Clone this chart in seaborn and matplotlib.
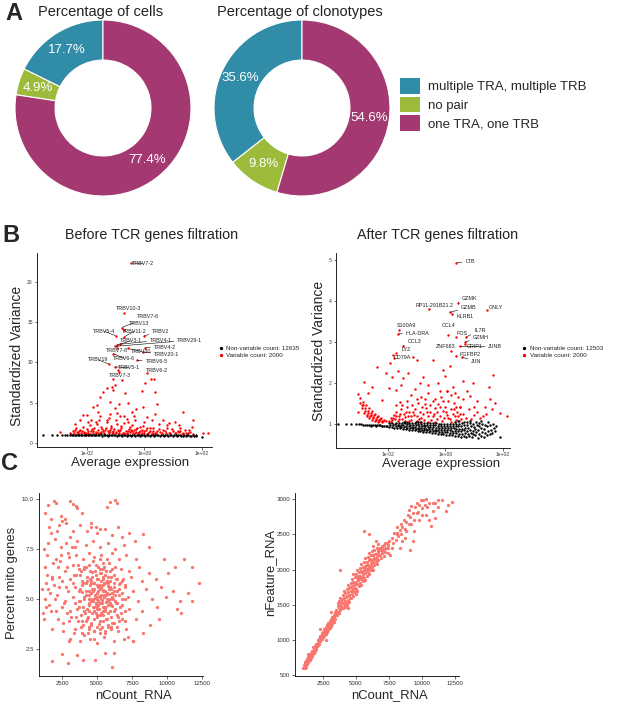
import numpy as np
import matplotlib
matplotlib.use('Agg')
import matplotlib.pyplot as plt
import seaborn as sns
from matplotlib.patches import Patch
from matplotlib.lines import Line2D

sns.set_theme(style='ticks')
plt.rcParams['font.family'] = ['Liberation Sans', 'DejaVu Sans']

# ---------------- data: panel A ----------------
pair_types = ['multiple TRA, multiple TRB', 'no pair', 'one TRA, one TRB']
pair_colors = ['#318CA7', '#9CBB3B', '#A43971']
cells_pct = [17.7, 4.9, 77.4]
clonotypes_pct = [35.6, 9.8, 54.6]

# ---------------- data: panel B (log10 average expression, standardized variance) ----------------
before_genes = ['TRBV7-2', 'TRBV10-3', 'TRBV7-6', 'TRBV13', 'TRBV5-4', 'TRBV11-2', 'TRBV2',
                'TRBV3-1', 'TRBV4-1', 'TRBV29-1', 'TRBV4-2', 'TRBV7-8', 'TRBV30', 'TRBV20-1',
                'TRBV19', 'TRBV6-6', 'TRBV6-5', 'TRBV5-1', 'TRBV6-2', 'TRBV7-3']
before_gene_logx = [-0.46, -0.71, -0.79, -0.71, -0.99, -0.71, -0.02, -0.97, -0.85, -1.03,
                    0.02, -0.97, -0.56, -0.06, -1.22, -1.08, -0.27, -1.03, 0.08, -0.88]
before_gene_var = [22.36, 16.16, 14.34, 14.0, 13.3, 13.18, 13.3, 12.15, 12.27, 12.0,
                   11.86, 11.74, 11.74, 11.32, 9.79, 11.1, 10.29, 9.46, 8.72, 8.84]
before_red = [(-2.94, 1.4), (-2.6, 1.3), (-2.55, 1.15), (-2.5, 1.5), (-2.45, 1.2), (-2.4, 1.8), (-2.35, 1.35),
              (-2.3, 1.1), (-2.25, 1.6), (-2.2, 1.25), (-2.15, 2.0), (-2.1, 1.4), (-2.05, 1.15), (-2.0, 1.7),
              (-1.95, 1.3), (-1.9, 2.2), (-1.85, 1.5), (-1.8, 1.2), (-1.75, 1.9), (-1.7, 1.4), (-1.65, 2.4),
              (-1.6, 1.6), (-1.55, 1.25), (-1.5, 2.0), (-1.45, 1.45), (-1.4, 1.15), (-1.35, 1.8), (-1.3, 2.6),
              (-1.25, 1.35), (-1.2, 1.6), (-1.15, 2.1), (-1.1, 1.2), (-1.05, 1.7), (-1.0, 1.4), (-0.95, 2.3),
              (-0.9, 1.25), (-0.85, 1.55), (-0.8, 1.9), (-0.75, 1.3), (-0.7, 2.5), (-0.65, 1.45), (-0.6, 1.15),
              (-0.55, 1.75), (-0.5, 1.35), (-0.45, 2.2), (-0.4, 1.2), (-0.35, 1.6), (-0.3, 1.4), (-0.25, 1.9),
              (-0.2, 1.15), (-0.15, 1.5), (-0.1, 1.3), (-0.05, 2.1), (0.0, 1.25), (0.05, 1.6), (0.1, 1.15),
              (0.15, 1.4), (0.2, 1.8), (0.25, 1.2), (0.3, 1.5), (0.4, 1.3), (0.5, 1.7), (0.6, 1.2), (0.7, 1.45),
              (0.8, 1.9), (0.9, 1.25), (1.0, 1.5), (1.1, 1.2), (1.2, 1.35), (1.3, 1.15), (1.4, 1.6), (1.5, 1.2),
              (1.6, 1.4), (1.7, 1.1), (-2.42, 1.6), (-2.28, 1.45), (-2.12, 1.2), (-1.98, 1.5), (-1.82, 1.7),
              (-1.68, 1.25), (-1.52, 1.4), (-1.38, 1.55), (-1.22, 1.25), (-1.08, 1.45), (-0.92, 1.65),
              (-0.78, 1.15), (-0.62, 1.3), (-0.48, 1.55), (-0.32, 1.25), (-0.18, 1.35), (-0.02, 1.45),
              (0.12, 1.3), (0.28, 1.15), (0.45, 1.45), (0.65, 1.6), (0.85, 1.3), (1.05, 1.25), (1.25, 1.5),
              (1.45, 1.3), (-2.32, 1.25), (-2.18, 1.5), (-2.02, 1.3), (-1.88, 1.15), (-1.78, 1.45),
              (-1.62, 1.3), (-1.48, 1.7), (-1.42, 1.2), (-1.28, 1.45), (-1.18, 1.9), (-1.12, 1.35),
              (-0.98, 1.2), (-0.88, 1.45), (-0.82, 2.1), (-0.72, 1.25), (-0.58, 1.5), (-0.52, 1.95),
              (-0.42, 1.45), (-0.28, 1.7), (-0.22, 1.3), (-0.08, 1.6), (0.08, 1.9), (0.18, 1.45), (0.35, 1.25),
              (0.55, 1.35), (0.75, 1.2), (0.95, 1.7), (1.15, 1.45), (1.35, 1.25), (1.55, 1.55),
              (-1.95, 2.6), (-1.58, 2.9), (-1.25, 3.1), (-0.95, 3.7), (-0.62, 3.0), (-0.38, 3.4), (0.0, 2.6),
              (0.38, 3.6), (0.85, 2.5), (1.2, 2.2),
              (-0.91, 9.1), (-0.79, 7.8), (-1.03, 7.2), (-1.14, 7.0), (-1.08, 6.6), (-1.32, 6.8),
              (-1.43, 6.3), (-1.55, 5.7), (-1.66, 4.7), (-1.8, 4.5), (-1.2, 5.1), (-1.03, 4.3), (-0.68, 6.2),
              (-0.56, 5.0), (-0.45, 3.9), (-0.1, 6.4), (0.02, 7.4), (0.21, 8.0), (0.33, 7.9), (0.42, 4.8),
              (-0.04, 4.5), (-0.33, 2.9), (0.25, 2.9), (0.66, 2.9), (1.06, 2.6), (1.35, 3.8), (1.7, 2.9),
              (1.64, 2.0), (-2.13, 3.5), (-1.99, 3.5), (-1.87, 2.9), (-2.24, 2.9), (-2.42, 2.4), (-1.55, 3.3),
              (-1.32, 2.85), (-0.85, 3.3), (-0.56, 2.6), (-0.16, 2.0), (0.31, 1.8), (0.77, 2.2), (1.23, 1.8),
              (2.05, 1.2), (2.22, 1.3), (-1.6, 3.9), (-1.2, 3.6), (-0.9, 4.8), (-0.7, 3.4), (-1.7, 2.6),
              (-1.0, 2.8), (0.1, 3.2), (0.5, 2.4), (-0.3, 4.2), (-1.1, 8.0), (0.35, 6.3)]
before_black_logx = [-3.52, -3.23, -3.05, -2.88, -2.77, -2.68, -2.6, -2.53, -2.47, -2.42, -2.37, -2.32,
                     -2.27, -2.22, -2.17, -2.12, -2.07, -2.02, -1.97, -1.92, -1.87, -1.82, -1.77, -1.72,
                     -1.67, -1.62, -1.57, -1.52, -1.47, -1.42, -1.37, -1.32, -1.27, -1.22, -1.17, -1.12,
                     -1.07, -1.02, -0.97, -0.92, -0.87, -0.82, -0.77, -0.72, -0.67, -0.62, -0.57, -0.52,
                     -0.47, -0.42, -0.37, -0.32, -0.27, -0.22, -0.17, -0.12, -0.07, -0.02, 0.03, 0.08,
                     0.13, 0.18, 0.23, 0.28, 0.33, 0.38, 0.43, 0.48, 0.53, 0.58, 0.63, 0.68, 0.73, 0.78,
                     0.83, 0.88, 0.93, 0.98, 1.03, 1.08, 1.13, 1.18, 1.23, 1.28, 1.33, 1.38, 1.43, 1.48,
                     1.53, 1.58, 1.63, 1.68, 1.73, 1.78, 1.81, 2.0]
before_black_var = [1.0, 1.0, 1.0, 1.0, 1.0, 1.0, 1.0, 0.98, 1.02, 0.97, 1.03, 0.99, 1.01, 0.96, 1.04,
                    0.98, 1.02, 0.95, 1.05, 0.97, 1.01, 0.94, 1.04, 0.98, 0.93, 1.03, 0.97, 1.06, 0.92,
                    1.0, 0.95, 1.04, 0.91, 0.99, 1.05, 0.93, 0.98, 1.03, 0.9, 1.0, 0.96, 1.05, 0.91, 0.99,
                    1.02, 0.9, 0.97, 1.04, 0.92, 0.98, 1.01, 0.89, 0.96, 1.03, 0.91, 0.99, 0.94, 1.02, 0.88,
                    0.97, 1.0, 0.9, 0.95, 1.03, 0.88, 0.98, 0.93, 1.0, 0.87, 0.96, 1.02, 0.89, 0.94, 0.99,
                    0.86, 0.95, 1.01, 0.88, 0.93, 0.98, 0.86, 0.95, 1.0, 0.87, 0.92, 0.97, 0.85, 0.94, 0.99,
                    0.87, 0.91, 0.96, 0.86, 0.93, 0.9, 0.72]

after_genes = ['LTB', 'GZMK', 'RP11-291B21.2', 'GZMB', 'KLRB1', 'GNLY', 'S100A9', 'HLA-DRA', 'CCL4',
               'FOS', 'IL7R', 'GZMH', 'CRIP1', 'JUNB', 'ZNF683', 'FGFBP2', 'JUN', 'CCL3', 'LYZ', 'CD79A']
after_gene_logx = [0.38, 0.42, -0.56, 0.15, 0.21, 1.43, -1.61, -1.64, 0.09, 0.36, 0.72, 0.68, 0.67,
                   0.5, 0.19, 0.36, 0.56, -1.49, -1.7, -1.81]
after_gene_var = [4.93, 3.96, 3.8, 3.72, 3.67, 3.78, 3.28, 3.2, 3.17, 3.11, 3.12, 3.0, 2.94, 2.89,
                  2.79, 2.66, 2.63, 2.89, 2.72, 2.68]
after_red = [(-3.05, 1.72), (-2.95, 1.62), (-2.85, 1.53), (-2.75, 1.45), (-2.65, 1.38), (-2.55, 1.31),
             (-2.45, 1.25), (-2.35, 1.19), (-2.25, 1.14), (-2.15, 1.1), (-2.05, 1.07), (-2.98, 1.52),
             (-2.88, 1.45), (-2.78, 1.38), (-2.68, 1.32), (-2.58, 1.26), (-2.48, 1.21), (-2.38, 1.16),
             (-2.28, 1.12), (-2.18, 1.08), (-2.9, 1.38), (-2.8, 1.32), (-2.7, 1.27), (-2.6, 1.22), (-2.5, 1.17),
             (-2.4, 1.13), (-2.3, 1.09), (-2.2, 1.06), (-2.82, 1.27), (-2.72, 1.22), (-2.62, 1.18),
             (-2.52, 1.14), (-2.42, 1.1), (-2.32, 1.07), (-2.22, 1.04), (-2.74, 1.18), (-2.64, 1.14),
             (-2.54, 1.1), (-2.44, 1.07), (-2.34, 1.05), (-3.03, 1.3), (-2.91, 1.46),
             (-1.95, 1.08), (-1.9, 1.15), (-1.85, 1.1), (-1.8, 1.22), (-1.75, 1.12), (-1.7, 1.3), (-1.65, 1.08),
             (-1.6, 1.18), (-1.55, 1.35), (-1.5, 1.12), (-1.45, 1.25), (-1.4, 1.07), (-1.35, 1.4), (-1.3, 1.18),
             (-1.25, 1.3), (-1.2, 1.1), (-1.15, 1.45), (-1.1, 1.22), (-1.05, 1.35), (-1.0, 1.08), (-0.95, 1.52),
             (-0.9, 1.28), (-0.85, 1.15), (-0.8, 1.4), (-0.75, 1.1), (-0.7, 1.6), (-0.65, 1.3), (-0.6, 1.2),
             (-0.55, 1.45), (-0.5, 1.1), (-0.45, 1.55), (-0.4, 1.25), (-0.35, 1.38), (-0.3, 1.12), (-0.25, 1.48),
             (-0.2, 1.2), (-0.15, 1.65), (-0.1, 1.32), (-0.05, 1.15), (0.0, 1.42), (0.05, 1.22), (0.1, 1.55),
             (0.15, 1.12), (0.2, 1.35), (0.25, 1.25), (0.3, 1.5), (0.35, 1.1), (0.4, 1.3), (0.45, 1.18),
             (0.5, 1.42), (0.55, 1.12), (0.6, 1.25), (0.7, 1.15), (0.8, 1.35), (0.9, 1.12), (1.0, 1.22),
             (1.1, 1.3), (1.2, 1.15), (1.4, 1.25), (1.6, 1.35), (-1.88, 1.05), (-1.72, 1.18), (-1.58, 1.25),
             (-1.42, 1.16), (-1.28, 1.08), (-1.12, 1.3), (-0.98, 1.2), (-0.88, 1.05), (-0.78, 1.25),
             (-0.62, 1.05), (-0.52, 1.3), (-0.38, 1.05), (-0.28, 1.28), (-0.12, 1.08), (0.02, 1.3),
             (0.18, 1.05), (0.32, 1.2), (0.48, 1.08), (-1.5, 1.45), (-1.0, 1.6), (-0.6, 1.75), (-0.2, 1.8),
             (0.2, 1.7), (-0.85, 1.65), (-0.35, 1.6), (0.05, 1.8), (0.6, 1.6),
             (-1.82, 1.15), (-1.62, 1.12), (-1.38, 1.28), (-1.18, 1.2), (-0.92, 1.12), (-0.68, 1.38),
             (-0.42, 1.18), (-0.18, 1.4), (0.08, 1.15), (0.28, 1.35), (0.52, 1.25), (-1.32, 1.55),
             (-0.72, 1.48), (-0.08, 1.55), (0.38, 1.42), (-1.7, 1.45),
             (-2.39, 2.38), (-2.83, 2.03), (-2.68, 1.75), (-2.05, 2.24), (-1.91, 2.48), (-1.87, 2.15),
             (-1.95, 1.87), (-1.7, 1.83), (-1.47, 2.11), (-1.29, 2.24), (-1.12, 2.63), (-0.77, 2.15),
             (-0.43, 2.56), (-0.08, 2.32), (-0.02, 2.17), (0.04, 1.79), (0.27, 1.91), (0.33, 1.75),
             (0.85, 1.67), (0.96, 1.99), (1.66, 2.2), (1.29, 1.18), (1.72, 1.52), (1.89, 1.26), (2.12, 1.18),
             (1.37, 1.42), (0.5, 1.42), (-1.58, 1.54), (-2.22, 1.59), (-1.79, 2.6), (-1.55, 1.95),
             (-1.05, 1.85), (-0.6, 1.95), (-0.25, 2.0), (0.15, 2.4), (0.6, 2.05), (1.1, 1.55), (1.5, 1.9),
             (-1.2, 1.7), (-0.9, 2.0), (0.45, 1.65), (0.75, 1.8), (-1.66, 2.3), (-2.55, 1.9), (-1.0, 2.55),
             (1.0, 1.4), (1.55, 1.6)]
after_black = [(-3.72, 1.0), (-3.45, 1.0), (-3.28, 0.99), (-3.12, 0.99), (-3.0, 0.99), (-2.92, 0.985),
               (-2.85, 0.98), (-2.78, 0.98), (-2.71, 0.978), (-2.64, 0.975), (-2.57, 0.972), (-2.5, 0.97),
               (-2.44, 0.968), (-2.38, 0.965), (-2.32, 0.963), (-2.26, 0.96), (-2.2, 0.958), (-2.14, 0.955),
               (-2.08, 0.953), (-2.02, 0.95), (-2.6, 0.955), (-2.4, 0.95), (-2.2, 0.945),
               (-1.96, 0.93), (-1.93, 0.97), (-1.97, 1.01), (-1.86, 0.92), (-1.83, 0.96), (-1.87, 1.02),
               (-1.77, 0.91), (-1.73, 0.95), (-1.76, 0.99), (-1.72, 1.03), (-1.67, 0.9), (-1.63, 0.94),
               (-1.66, 0.98), (-1.62, 1.03), (-1.57, 0.89), (-1.53, 0.93), (-1.56, 0.97), (-1.52, 1.02),
               (-1.47, 0.88), (-1.43, 0.92), (-1.46, 0.96), (-1.42, 1.01), (-1.45, 1.04), (-1.37, 0.87),
               (-1.33, 0.91), (-1.36, 0.95), (-1.32, 0.99), (-1.35, 1.04), (-1.27, 0.86), (-1.23, 0.9),
               (-1.26, 0.94), (-1.22, 0.98), (-1.25, 1.03), (-1.17, 0.85), (-1.13, 0.89), (-1.16, 0.93),
               (-1.12, 0.97), (-1.15, 1.02), (-1.07, 0.84), (-1.03, 0.88), (-1.06, 0.92), (-1.02, 0.96),
               (-1.05, 1.01), (-1.04, 1.05), (-0.97, 0.83), (-0.93, 0.87), (-0.96, 0.91), (-0.92, 0.95),
               (-0.95, 1.0), (-0.94, 1.04), (-0.87, 0.82), (-0.83, 0.86), (-0.86, 0.9), (-0.82, 0.94),
               (-0.85, 0.99), (-0.84, 1.04), (-0.77, 0.81), (-0.73, 0.85), (-0.76, 0.89), (-0.72, 0.94),
               (-0.75, 0.98), (-0.74, 1.03), (-0.67, 0.8), (-0.63, 0.84), (-0.66, 0.88), (-0.62, 0.93),
               (-0.65, 0.97), (-0.64, 1.02), (-0.57, 0.79), (-0.53, 0.83), (-0.56, 0.88), (-0.52, 0.92),
               (-0.55, 0.97), (-0.54, 1.02), (-0.47, 0.78), (-0.43, 0.82), (-0.46, 0.87), (-0.42, 0.92),
               (-0.45, 0.96), (-0.44, 1.01), (-0.37, 0.77), (-0.33, 0.82), (-0.36, 0.86), (-0.32, 0.91),
               (-0.35, 0.96), (-0.34, 1.01), (-0.27, 0.76), (-0.23, 0.81), (-0.26, 0.86), (-0.22, 0.91),
               (-0.25, 0.95), (-0.24, 1.0), (-0.17, 0.75), (-0.13, 0.8), (-0.16, 0.85), (-0.12, 0.9),
               (-0.15, 0.95), (-0.14, 1.0), (-0.07, 0.74), (-0.03, 0.79), (-0.06, 0.85), (-0.02, 0.9),
               (-0.05, 0.95), (-0.04, 1.0), (0.03, 0.73), (0.07, 0.79), (0.04, 0.84), (0.08, 0.89),
               (0.05, 0.94), (0.06, 0.99), (0.13, 0.72), (0.17, 0.78), (0.14, 0.84), (0.18, 0.89),
               (0.15, 0.94), (0.16, 1.0), (0.23, 0.72), (0.27, 0.78), (0.24, 0.83), (0.28, 0.89),
               (0.25, 0.94), (0.26, 1.0), (0.33, 0.71), (0.37, 0.77), (0.34, 0.83), (0.38, 0.88),
               (0.35, 0.94), (0.36, 1.0), (0.34, 1.05), (0.43, 0.7), (0.47, 0.76), (0.44, 0.82),
               (0.48, 0.88), (0.45, 0.94), (0.46, 1.0), (0.44, 1.06), (0.53, 0.69), (0.57, 0.76),
               (0.54, 0.82), (0.58, 0.88), (0.55, 0.95), (0.56, 1.02), (0.63, 0.7), (0.67, 0.77),
               (0.64, 0.84), (0.68, 0.91), (0.65, 0.98), (0.66, 1.05), (0.73, 0.68), (0.77, 0.75),
               (0.74, 0.82), (0.78, 0.9), (0.75, 0.97), (0.76, 1.04), (0.83, 0.7), (0.87, 0.78),
               (0.84, 0.86), (0.88, 0.94), (0.85, 1.02), (0.86, 1.08), (0.93, 0.67), (0.97, 0.75),
               (0.94, 0.83), (0.98, 0.92), (0.95, 1.0), (1.03, 0.72), (1.07, 0.8), (1.04, 0.88),
               (1.08, 0.97), (1.05, 1.05), (1.13, 0.66), (1.17, 0.76), (1.14, 0.86), (1.18, 0.95),
               (1.15, 1.03), (1.23, 0.7), (1.27, 0.8), (1.24, 0.9), (1.28, 1.0), (1.25, 1.08),
               (1.33, 0.68), (1.37, 0.78), (1.34, 0.88), (1.38, 0.97), (1.43, 0.72), (1.47, 0.83),
               (1.44, 0.94), (1.48, 1.04), (1.53, 0.75), (1.57, 0.86), (1.54, 0.97), (1.63, 0.78),
               (1.67, 0.9), (1.64, 1.0), (1.73, 0.82), (1.77, 0.95), (1.9, 0.68)]

# ---------------- data: panel C (per cell QC: nCount_RNA vs percent mito / nFeature_RNA) ----------------
mito_pts = [(1900, 9.9), (2100, 9.8), (1500, 9.7), (1300, 9.3), (3100, 9.9), (3300, 9.75), (3500, 9.65),
            (3600, 9.55), (5900, 9.85), (6300, 9.95), (6400, 9.8), (5700, 9.6), (1700, 9.0), (2500, 8.9),
            (2300, 8.7), (2800, 8.8), (2700, 9.0), (2400, 9.15), (3900, 9.3), (4600, 8.8), (4900, 8.6),
            (5200, 8.5), (6500, 8.6), (6800, 8.1), (7300, 8.3), (8300, 8.25), (7700, 7.9), (8700, 7.6),
            (9800, 7.0), (11200, 7.0), (10600, 6.6), (11800, 6.6), (10100, 6.3), (12300, 5.8), (11500, 5.3),
            (11800, 4.9), (11000, 4.3), (10700, 4.5), (9400, 4.0), (8800, 3.7), (7600, 2.9), (7200, 3.1),
            (6200, 2.3), (6100, 1.6), (4850, 1.95), (4000, 1.95), (2900, 1.8), (1800, 1.9), (2500, 2.25),
            (3600, 2.2), (5600, 2.3), (3000, 2.9), (1800, 3.5), (1200, 4.0), (1100, 5.5), (1400, 6.2),
            (1200, 7.5), (1500, 7.8), (1700, 8.3), (2000, 8.0),
            (4300, 8.4), (5000, 8.3), (5600, 8.5), (6100, 8.2), (3800, 8.7), (4600, 8.6),
            (3600, 7.9), (4200, 7.7), (4700, 7.9), (5200, 7.6), (5800, 7.8), (6300, 7.5), (6900, 7.7),
            (3200, 7.6), (2800, 7.8), (3000, 7.1), (3500, 7.2), (4000, 7.0), (4400, 7.3), (4800, 7.1),
            (5300, 7.2), (5700, 7.0), (6100, 7.3), (6600, 7.0), (7100, 7.2), (2400, 7.2), (7800, 7.0),
            (2200, 6.6), (2700, 6.4), (3300, 6.7), (3700, 6.5), (4100, 6.6), (4500, 6.4), (4900, 6.7),
            (5200, 6.5), (5500, 6.6), (5900, 6.4), (6300, 6.6), (6700, 6.5), (7300, 6.4), (8000, 6.6),
            (8700, 6.3), (1800, 6.1), (2500, 5.9), (3100, 6.0), (3500, 6.2), (3900, 5.9), (4300, 6.1),
            (4600, 5.9), (4900, 6.2), (5100, 6.0), (5400, 6.1), (5700, 5.9), (6000, 6.1), (6400, 6.0),
            (6800, 5.9), (7400, 6.1), (8200, 5.9), (9200, 6.0), (1500, 5.5), (2300, 5.6), (2900, 5.4),
            (3400, 5.6), (3800, 5.5), (4200, 5.4), (4500, 5.7), (4800, 5.5), (5000, 5.3), (5300, 5.6),
            (5600, 5.4), (5900, 5.6), (6200, 5.4), (6600, 5.5), (7000, 5.6), (7600, 5.4), (8500, 5.5),
            (9600, 5.6), (10400, 5.4), (2000, 5.0), (2700, 4.9), (3300, 5.1), (3700, 4.9), (4100, 5.0),
            (4400, 5.2), (4700, 4.9), (5000, 5.0), (5200, 4.8), (5500, 5.1), (5800, 4.9), (6100, 5.1),
            (6400, 4.8), (6800, 5.0), (7200, 5.1), (7900, 4.9), (8900, 5.0), (9900, 5.1), (10900, 4.9),
            (1700, 4.4), (2500, 4.6), (3100, 4.4), (3600, 4.5), (4000, 4.6), (4400, 4.4), (4700, 4.6),
            (5000, 4.5), (5300, 4.3), (5600, 4.6), (5900, 4.4), (6300, 4.5), (6700, 4.3), (7300, 4.5),
            (8200, 4.4), (9300, 4.6), (2200, 4.0), (3000, 3.9), (3500, 4.1), (3900, 3.9), (4300, 4.0),
            (4600, 3.8), (5000, 4.1), (5400, 3.9), (5700, 4.0), (6100, 3.8), (6500, 4.1), (7000, 3.9),
            (7800, 4.0), (2600, 3.4), (3400, 3.5), (3900, 3.3), (4400, 3.6), (4800, 3.4), (5200, 3.5),
            (5600, 3.3), (6000, 3.6), (6500, 3.4), (7100, 3.5), (8300, 3.3), (3100, 3.0), (3800, 2.9),
            (4500, 3.0), (5000, 2.8), (5500, 3.1), (6200, 2.9), (6900, 3.0), (7600, 2.9),
            (4600, 5.3), (4800, 5.8), (5100, 5.6), (5300, 5.2), (5500, 5.8), (5700, 5.3), (5900, 5.0),
            (5100, 4.7), (5400, 4.6), (5800, 4.7), (6000, 5.5), (4500, 5.0), (4900, 4.3), (5600, 6.2),
            (5200, 6.3), (6200, 5.8), (4200, 5.8), (4400, 4.8), (6300, 5.2), (5000, 6.0), (5450, 5.45),
            (5150, 5.15), (5750, 5.65), (4850, 5.05), (5350, 4.95), (5650, 4.85), (4700, 5.4), (5250, 5.9),
            (5850, 5.25), (5550, 4.4), (4950, 4.75), (6050, 4.65), (4650, 6.35), (5450, 6.8), (4150, 4.3),
            (6550, 5.75), (3950, 5.35), (5150, 3.75), (5750, 3.6), (4350, 3.3),
            (3650, 3.9), (3720, 4.6), (3680, 5.4), (3760, 6.2), (3640, 6.7), (3850, 3.6), (3880, 4.2),
            (3820, 4.9), (3900, 5.7), (3870, 6.4), (4020, 3.7), (4080, 4.4), (4050, 5.1), (4010, 5.8),
            (4090, 6.5), (4060, 3.2), (4220, 3.9), (4260, 4.5), (4200, 5.2), (4280, 5.9), (4240, 6.6),
            (4420, 3.5), (4380, 4.1), (4460, 4.7), (4400, 5.4), (4470, 6.0), (4430, 6.7), (4600, 3.7),
            (4640, 4.3), (4580, 4.9), (4660, 5.5), (4620, 6.1), (4680, 6.9), (4780, 3.4), (4820, 4.0),
            (4760, 4.6), (4840, 5.2), (4800, 5.8), (4860, 6.4), (4790, 3.0), (4980, 3.6), (5020, 4.2),
            (4960, 4.8), (5040, 5.4), (5000, 6.0), (5060, 6.6), (5180, 3.3), (5220, 3.9), (5160, 4.5),
            (5240, 5.1), (5200, 5.7), (5260, 6.3), (5180, 7.0), (5380, 3.6), (5420, 4.2), (5360, 4.8),
            (5440, 5.4), (5400, 6.0), (5460, 6.5), (5580, 3.4), (5620, 4.0), (5560, 4.6), (5640, 5.2),
            (5600, 5.8), (5660, 6.4), (5780, 3.7), (5820, 4.3), (5760, 4.9), (5840, 5.5), (5800, 6.1),
            (5860, 6.8), (5980, 3.5), (6020, 4.1), (6000, 4.7), (6040, 5.3), (5960, 5.9), (6060, 6.5),
            (6180, 3.8), (6220, 4.4), (6160, 5.0), (6240, 5.6), (6200, 6.2), (6400, 3.6), (6420, 4.2),
            (6380, 4.8), (6440, 5.4), (6360, 6.0), (6600, 3.9), (6620, 4.6), (6580, 5.2), (6640, 5.8),
            (6800, 4.0), (6820, 4.7), (6780, 5.3), (6840, 6.0), (7000, 4.4), (7020, 5.0), (6980, 5.7),
            (4700, 5.0), (4900, 5.1), (5100, 4.9), (5300, 5.0), (5500, 5.2), (5700, 5.0), (5900, 4.8),
            (4800, 4.4), (5000, 4.6), (5400, 4.4), (5600, 4.5), (5200, 5.5), (5000, 5.7), (5400, 5.7),
            (4600, 5.8), (5800, 5.8), (5200, 4.2), (4400, 5.0), (6100, 5.3), (6300, 4.9),
            (1150, 4.3), (1250, 5.0), (1350, 5.8), (1250, 6.6), (1450, 7.2), (1550, 4.7), (1650, 5.3),
            (1750, 6.0), (1850, 6.8), (1550, 8.6), (2050, 4.4), (2150, 5.2), (2250, 6.1), (2350, 6.9),
            (2450, 7.6), (2150, 8.4), (2650, 4.8), (2750, 5.6), (2850, 6.6), (2950, 7.3), (3050, 8.1),
            (3150, 4.1), (3250, 5.8), (3350, 6.2), (3450, 7.6), (3250, 8.4), (2050, 7.0), (1950, 5.7),
            (2850, 4.3), (3450, 4.8), (1350, 4.6), (2550, 3.8), (3350, 3.3)]

feature_pts = [(1000, 600), (1050, 640), (1100, 610), (1100, 680), (1150, 650), (1200, 700), (1200, 620),
               (1250, 680), (1300, 730), (1300, 660), (1350, 700), (1400, 760), (1400, 690), (1450, 740),
               (1500, 790), (1500, 720), (1550, 770), (1600, 820), (1600, 750), (1650, 790), (1700, 850),
               (1700, 780), (1750, 830), (1800, 880), (1800, 810), (1850, 860), (1900, 920), (1900, 850),
               (1950, 890), (2000, 950), (2000, 870), (2050, 920), (1750, 900), (1400, 800),
               (2100, 930), (2100, 1000), (2150, 960), (2200, 1020), (2200, 940), (2250, 990), (2300, 1060),
               (2300, 980), (2350, 1030), (2400, 1090), (2400, 1010), (2450, 1060), (2500, 1120), (2500, 1040),
               (2550, 1090), (2600, 1150), (2600, 1060), (2650, 1110), (2700, 1180), (2700, 1090), (2750, 1140),
               (2800, 1210), (2800, 1110), (2850, 1160), (2900, 1240), (2900, 1140), (2950, 1190), (3000, 1270),
               (3000, 1170), (3050, 1220), (3100, 1300), (3100, 1200), (3150, 1250), (3200, 1330), (3200, 1230),
               (3250, 1290), (3300, 1360), (3300, 1260), (3350, 1320), (3400, 1400), (3400, 1300), (3450, 1350),
               (3500, 1430), (2300, 1150), (2700, 1000), (3100, 1400),
               (3600, 1400), (3600, 1520), (3700, 1460), (3700, 1560), (3800, 1420), (3800, 1500), (3800, 1600),
               (3900, 1480), (3900, 1560), (4000, 1450), (4000, 1530), (4000, 1640), (4100, 1510), (4100, 1600),
               (4100, 1700), (4200, 1480), (4200, 1560), (4200, 1660), (4300, 1530), (4300, 1620), (4300, 1720),
               (4400, 1570), (4400, 1680), (4400, 1780), (4500, 1540), (4500, 1640), (4500, 1740), (4600, 1600),
               (4600, 1700), (4600, 1810), (4700, 1650), (4700, 1760), (4700, 1860), (4800, 1620), (4800, 1720),
               (4800, 1830), (4800, 1930), (4900, 1680), (4900, 1790), (4900, 1890), (5000, 1730), (5000, 1830),
               (5000, 1940), (5100, 1700), (5100, 1800), (5100, 1900), (5100, 2000), (5200, 1760), (5200, 1860),
               (5200, 1960), (5300, 1810), (5300, 1910), (5300, 2020), (5400, 1780), (5400, 1880), (5400, 1980),
               (5400, 2080), (5500, 1840), (5500, 1940), (5500, 2040), (5600, 1880), (5600, 1990), (5600, 2100),
               (5700, 1850), (5700, 1950), (5700, 2050), (5700, 2160), (5800, 1910), (5800, 2010), (5800, 2110),
               (5900, 1960), (5900, 2060), (5900, 2180), (6000, 1930), (6000, 2030), (6000, 2130), (6000, 2240),
               (6100, 1990), (6100, 2090), (6100, 2200), (6200, 2040), (6200, 2140), (6200, 2260), (6300, 2000),
               (6300, 2100), (6300, 2200), (6300, 2330), (6400, 2060), (6400, 2160), (6400, 2280), (6500, 2110),
               (6500, 2220), (6500, 2400), (6600, 2080), (6600, 2180), (6600, 2300), (6700, 2140), (6700, 2250),
               (6700, 2360), (6800, 2200), (6800, 2310), (6900, 2160), (6900, 2270), (7000, 2230), (7000, 2340),
               (7100, 2190), (7100, 2290), (7200, 2250), (7200, 2380), (7300, 2310), (7400, 2240), (7400, 2350),
               (7500, 2400), (3800, 2000), (4400, 1450), (5000, 1650), (6000, 2500), (5600, 2550), (7600, 2200),
               (3550, 1360), (3650, 1480), (3750, 1390), (3850, 1540), (3950, 1450), (4050, 1580), (4150, 1470),
               (4250, 1610), (4350, 1500), (4450, 1640), (4550, 1590), (4650, 1750), (4750, 1700), (4850, 1780),
               (4950, 1740), (5050, 1880), (5150, 1850), (5250, 1910), (5350, 1860), (5450, 1960), (5550, 1900),
               (5650, 2030), (5750, 2000), (5850, 2060), (5950, 2010), (6050, 2150), (6150, 2050), (6250, 2200),
               (6350, 2150), (6450, 2220), (6550, 2150), (6650, 2270), (6750, 2200), (6850, 2280), (6950, 2320),
               (7050, 2280), (7150, 2350), (7250, 2300), (7350, 2380), (7450, 2300), (2250, 1050), (2450, 1100),
               (2650, 1150), (2850, 1200), (3050, 1260), (3250, 1320), (3450, 1390), (1950, 930), (1650, 820),
               (1350, 740), (1150, 690),
               (7700, 2300), (7700, 2450), (7800, 2380), (7900, 2520), (8000, 2420), (8100, 2500), (8100, 2600),
               (8200, 2470), (8300, 2560), (8400, 2650), (8400, 2500), (8500, 2600), (8600, 2700), (8700, 2580),
               (8800, 2680), (8900, 2780), (9000, 2650), (9000, 2850), (9100, 2750), (9200, 2900), (9300, 2800),
               (9400, 2700), (9500, 2880), (9600, 2950), (9700, 2820), (9800, 2920), (9900, 2990), (10000, 2870),
               (10100, 2980), (10200, 2920), (10300, 2780), (10400, 2880), (10500, 2950), (10700, 2620),
               (10800, 2830), (11000, 2950), (11200, 2880), (11500, 2980), (11800, 2830), (12000, 2920),
               (12300, 2960), (8100, 2520), (9300, 2400), (9100, 2280), (8700, 2450), (10500, 2700),
               (11000, 2730), (8300, 2300), (8800, 2550), (9200, 2650), (9600, 2800), (10000, 2780),
               (10300, 3000), (10800, 2950), (11200, 2990), (9800, 2700), (8500, 2400), (9400, 2550)]

# ---------------- layout helpers (pixels -> figure fraction) ----------------
W, H = 617, 702


def fx(px):
    return px / W


def fy(py):
    return 1 - py / H


def split(pts):
    a = np.array(pts, dtype=float)
    return a[:, 0], a[:, 1]


fig = plt.figure(figsize=(W / 100, H / 100), dpi=100)

# ================= A: donuts =================
for cx, vals, title in [(103, cells_pct, 'Percentage of cells'),
                        (302, clonotypes_pct, 'Percentage of clonotypes')]:
    ax = fig.add_axes([fx(cx - 88), fy(108 + 88), 176 / W, 176 / H])
    ax.pie(vals, colors=pair_colors, startangle=90, counterclock=True,
           wedgeprops=dict(width=0.455, edgecolor='white', linewidth=0.8),
           autopct=lambda p: f'{p:.1f}%', pctdistance=0.775,
           textprops=dict(color='white', fontsize=9.5))
    ax.set_xlim(-1.0, 1.0)
    ax.set_ylim(-1.0, 1.0)
    fig.text(fx(cx - 2), fy(12), title, ha='center', va='center', fontsize=10.5, color='#222222')

handles = [Patch(facecolor=c, edgecolor='none', label=l) for c, l in zip(pair_colors, pair_types)]
fig.legend(handles=handles, loc='upper left', bbox_to_anchor=(fx(400), fy(78)), frameon=False,
           fontsize=9.5, handlelength=1.5, handleheight=1.45, handletextpad=0.6,
           labelspacing=0.22, borderpad=0, borderaxespad=0)


# ================= B: variable feature plots =================
def var_panel(ax, red_pts, black_logx, black_var, genes, glogx, gvar, lab_pos, xlim, ylim, yticks):
    rx, ry = split(red_pts)
    sns.scatterplot(x=10 ** rx, y=ry, color='red', s=3, linewidth=0, ax=ax)
    sns.scatterplot(x=10 ** np.asarray(black_logx), y=black_var, color='black', s=3, linewidth=0, ax=ax)
    sns.scatterplot(x=10 ** np.asarray(glogx), y=gvar, color='red', s=3, linewidth=0, ax=ax)
    ax.set_xscale('log')
    ax.set_xlim(10 ** xlim[0], 10 ** xlim[1])
    ax.set_ylim(*ylim)
    ax.set_xticks([1e-2, 1, 1e2])
    ax.set_xticklabels(['1e-02', '1e+00', '1e+02'])
    ax.minorticks_off()
    ax.set_yticks(yticks)
    ax.set_xlabel('')
    ax.set_ylabel('')
    ax.tick_params(labelsize=3.6, length=1.8, width=0.5, pad=1.2, colors='#333333')
    for s in ['left', 'bottom']:
        ax.spines[s].set_linewidth(0.6)
        ax.spines[s].set_color('black')
    sns.despine(ax=ax)
    for g, gx, gy in zip(genes, glogx, gvar):
        lx, ly = lab_pos[g]
        p = ax.transData.transform((10 ** gx, gy))
        q = ax.transData.transform((10 ** lx, ly))
        far = np.hypot(*(p - q)) > 11
        ax.annotate(g, xy=(10 ** gx, gy), xytext=(10 ** lx, ly), fontsize=3.9, ha='center', va='center',
                    color='#222222',
                    arrowprops=dict(arrowstyle='-', lw=0.4, color='black', shrinkA=0, shrinkB=0.5) if far else None)


before_label_pos = {'TRBV7-2': (-0.06, 22.3), 'TRBV10-3': (-0.55, 16.7), 'TRBV7-6': (0.13, 15.66),
                    'TRBV13': (-0.2, 14.83), 'TRBV5-4': (-1.40, 13.88), 'TRBV11-2': (-0.35, 13.88),
                    'TRBV2': (0.57, 13.88), 'TRBV3-1': (-0.48, 12.69), 'TRBV4-1': (0.57, 12.77),
                    'TRBV29-1': (1.58, 12.77), 'TRBV4-2': (0.71, 11.8), 'TRBV7-8': (-0.95, 11.55),
                    'TRBV30': (-0.1, 11.35), 'TRBV20-1': (0.77, 10.95), 'TRBV19': (-1.62, 10.33),
                    'TRBV6-6': (-0.72, 10.54), 'TRBV6-5': (0.42, 10.08), 'TRBV5-1': (-0.55, 9.34),
                    'TRBV6-2': (0.42, 9.05), 'TRBV7-3': (-0.85, 8.43)}
after_label_pos = {'LTB': (0.85, 4.97), 'GZMK': (0.85, 4.05), 'RP11-291B21.2': (-0.38, 3.89),
                   'GZMB': (0.81, 3.85), 'KLRB1': (0.67, 3.62), 'GNLY': (1.75, 3.85),
                   'S100A9': (-1.36, 3.39), 'HLA-DRA': (-0.97, 3.2), 'CCL4': (0.11, 3.39),
                   'FOS': (0.58, 3.21), 'IL7R': (1.19, 3.29), 'GZMH': (1.22, 3.11), 'CRIP1': (1.02, 2.89),
                   'JUNB': (1.73, 2.89), 'ZNF683': (0.0, 2.89), 'FGFBP2': (0.85, 2.7), 'JUN': (1.07, 2.52),
                   'CCL3': (-1.08, 3.01), 'LYZ': (-1.35, 2.82), 'CD79A': (-1.49, 2.62)}

axBL = fig.add_axes([fx(37), fy(447), 175 / W, 194 / H])
var_panel(axBL, before_red, before_black_logx, before_black_var, before_genes, before_gene_logx,
          before_gene_var, before_label_pos, (-3.74, 2.35), (-0.5, 23.6), [0, 5, 10, 15, 20])

abx, aby = split(after_black)
axBR = fig.add_axes([fx(336), fy(448), 174 / W, 195 / H])
var_panel(axBR, after_red, abx, aby, after_genes, after_gene_logx, after_gene_var,
          after_label_pos, (-3.8, 2.24), (0.41, 5.17), [1, 2, 3, 4, 5])

for ax, anchor, n_non in [(axBL, 219, 12635), (axBR, 522, 12503)]:
    hs = [Line2D([], [], marker='o', ls='', color='black', markersize=1.4, label=f'Non-variable count: {n_non}'),
          Line2D([], [], marker='o', ls='', color='red', markersize=1.4, label='Variable count: 2000')]
    fig.legend(handles=hs, loc='center left', bbox_to_anchor=(fx(anchor), fy(352)), frameon=False,
               fontsize=4.5, handlelength=0.6, handletextpad=0.6, labelspacing=0.35, borderpad=0,
               borderaxespad=0)

fig.text(fx(152), fy(235), 'Before TCR genes filtration', ha='center', va='center', fontsize=10.3, color='#222222')
fig.text(fx(438), fy(235), 'After TCR genes filtration', ha='center', va='center', fontsize=10.3, color='#222222')
fig.text(fx(130), fy(463), 'Average expression', ha='center', va='center', fontsize=9.6)
fig.text(fx(441), fy(464), 'Average expression', ha='center', va='center', fontsize=9.6)
fig.text(fx(17), fy(356), 'Standardized Variance', ha='center', va='center', rotation=90, fontsize=10)
fig.text(fx(319), fy(351), 'Standardized Variance', ha='center', va='center', rotation=90, fontsize=10)

# ================= C: QC scatter plots =================
salmon = '#F8766D'
axCL = fig.add_axes([fx(39), fy(676), 164 / W, 183 / H])
mx, my = split(mito_pts)
sns.scatterplot(x=mx, y=my, color=salmon, s=5.5, linewidth=0, ax=axCL)
axCL.set_xlim(857, 12570)
axCL.set_ylim(1.15, 10.3)
axCL.set_yticks([2.5, 5.0, 7.5, 10.0])
axCL.set_yticklabels(['2.5', '5.0', '7.5', '10.0'])

axCR = fig.add_axes([fx(295), fy(676), 164 / W, 183 / H])
nx, ny = split(feature_pts)
sns.scatterplot(x=nx, y=ny, color=salmon, s=5.5, linewidth=0, ax=axCR)
axCR.set_xlim(380, 12800)
axCR.set_ylim(490, 3085)
axCR.set_yticks([500, 1000, 1500, 2000, 2500, 3000])

for ax in (axCL, axCR):
    ax.set_xticks([2500, 5000, 7500, 10000, 12500])
    ax.set_xlabel('')
    ax.set_ylabel('')
    ax.tick_params(labelsize=4.4, length=2.2, width=0.5, pad=1.5, colors='#333333')
    for s in ['left', 'bottom']:
        ax.spines[s].set_linewidth(0.6)
        ax.spines[s].set_color('black')
    sns.despine(ax=ax)

fig.text(fx(133), fy(695), 'nCount_RNA', ha='center', va='center', fontsize=9.4)
fig.text(fx(389), fy(695), 'nCount_RNA', ha='center', va='center', fontsize=9.4)
fig.text(fx(12), fy(583), 'Percent mito genes', ha='center', va='center', rotation=90, fontsize=9.4)
fig.text(fx(270), fy(572), 'nFeature_RNA', ha='center', va='center', rotation=90, fontsize=9.4)

# panel letters
for letter, px, py in [('A', 14, 13), ('B', 11, 236), ('C', 10, 463)]:
    fig.text(fx(px), fy(py), letter, ha='center', va='center', fontsize=17, fontweight='bold')

fig.savefig('out.png', dpi=100)
